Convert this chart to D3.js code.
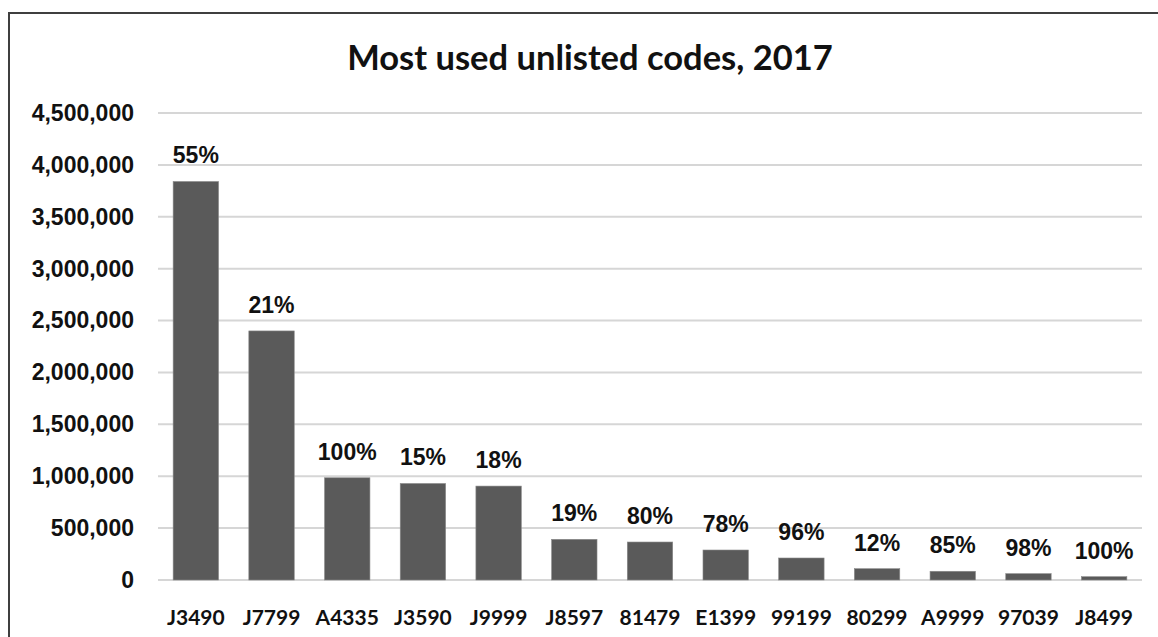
<!DOCTYPE html>
<html>
<head>
<meta charset="utf-8">
<script src="https://cdn.jsdelivr.net/npm/d3@7"></script>
<style>
  html, body { margin: 0; padding: 0; background: #fff; }
  svg { display: block; }
</style>
</head>
<body>
<svg id="chart" width="1158" height="637"></svg>
<script>
const categories = ["J3490","J7799","A4335","J3590","J9999","J8597","81479","E1399","99199","80299","A9999","97039","J8499"];
const values = [3840000, 2400000, 985000, 930000, 905000, 392000, 366000, 289000, 212000, 109000, 84000, 61000, 32000];
const percentLabels = ["55%","21%","100%","15%","18%","19%","80%","78%","96%","12%","85%","98%","100%"];
const yTicks = [0, 500000, 1000000, 1500000, 2000000, 2500000, 3000000, 3500000, 4000000, 4500000];
const title = "Most used unlisted codes, 2017";

const W = 1158, H = 637;
const margin = { left: 158, right: 16, top: 113, bottom: 57 };
const svg = d3.select("#chart");

// frame
svg.append("path")
  .attr("d", `M9,${H} L9,13 L${W},13`)
  .attr("fill", "none")
  .attr("stroke", "#3f3f3f")
  .attr("stroke-width", 2);

const x = d3.scaleBand()
  .domain(categories)
  .range([margin.left, W - margin.right])
  .paddingInner(0.4)
  .paddingOuter(0.2);

const y = d3.scaleLinear()
  .domain([0, 4500000])
  .range([H - margin.bottom, margin.top]);

// gridlines
svg.append("g")
  .selectAll("line")
  .data(yTicks)
  .join("line")
  .attr("x1", margin.left)
  .attr("x2", W - margin.right)
  .attr("y1", d => y(d))
  .attr("y2", d => y(d))
  .attr("stroke", "#d6d6d6")
  .attr("stroke-width", 2);

// y axis labels
const yAxis = d3.axisLeft(y).tickValues(yTicks).tickFormat(d3.format(",")).tickSize(0).tickPadding(24);
const gy = svg.append("g").attr("transform", `translate(${margin.left},0)`).call(yAxis);
gy.select(".domain").remove();
gy.selectAll("text")
  .attr("fill", "#111")
  .style("font-family", "'Liberation Sans', Arial, sans-serif")
  .style("font-weight", "bold")
  .style("font-size", "23px");

// bars
svg.append("g")
  .selectAll("rect")
  .data(values)
  .join("rect")
  .attr("x", (d, i) => x(categories[i]))
  .attr("width", x.bandwidth())
  .attr("y", d => y(d))
  .attr("height", d => y(0) - y(d))
  .attr("fill", "#5a5a5a")
  .attr("stroke", "#8a8a8a")
  .attr("stroke-width", 0.6);

// percent labels
svg.append("g")
  .selectAll("text")
  .data(values)
  .join("text")
  .attr("x", (d, i) => x(categories[i]) + x.bandwidth() / 2)
  .attr("y", d => y(d) - 18)
  .attr("text-anchor", "middle")
  .attr("fill", "#111")
  .style("font-family", "'Liberation Sans', Arial, sans-serif")
  .style("font-weight", "bold")
  .style("font-size", "23px")
  .text((d, i) => percentLabels[i]);

// x axis labels
const xAxis = d3.axisBottom(x).tickSize(0).tickPadding(30);
const gx = svg.append("g").attr("transform", `translate(0,${y(0)})`).call(xAxis);
gx.select(".domain").remove();
gx.selectAll("text")
  .attr("fill", "#111")
  .style("font-family", "Lato, 'Open Sans', sans-serif")
  .style("font-weight", "bold")
  .style("font-size", "21px");

// title
svg.append("text")
  .attr("x", 590)
  .attr("y", 70)
  .attr("text-anchor", "middle")
  .attr("fill", "#111")
  .style("font-family", "Lato, 'Open Sans', sans-serif")
  .style("font-weight", "bold")
  .style("font-size", "34.5px")
  .text(title);
</script>
</body>
</html>
